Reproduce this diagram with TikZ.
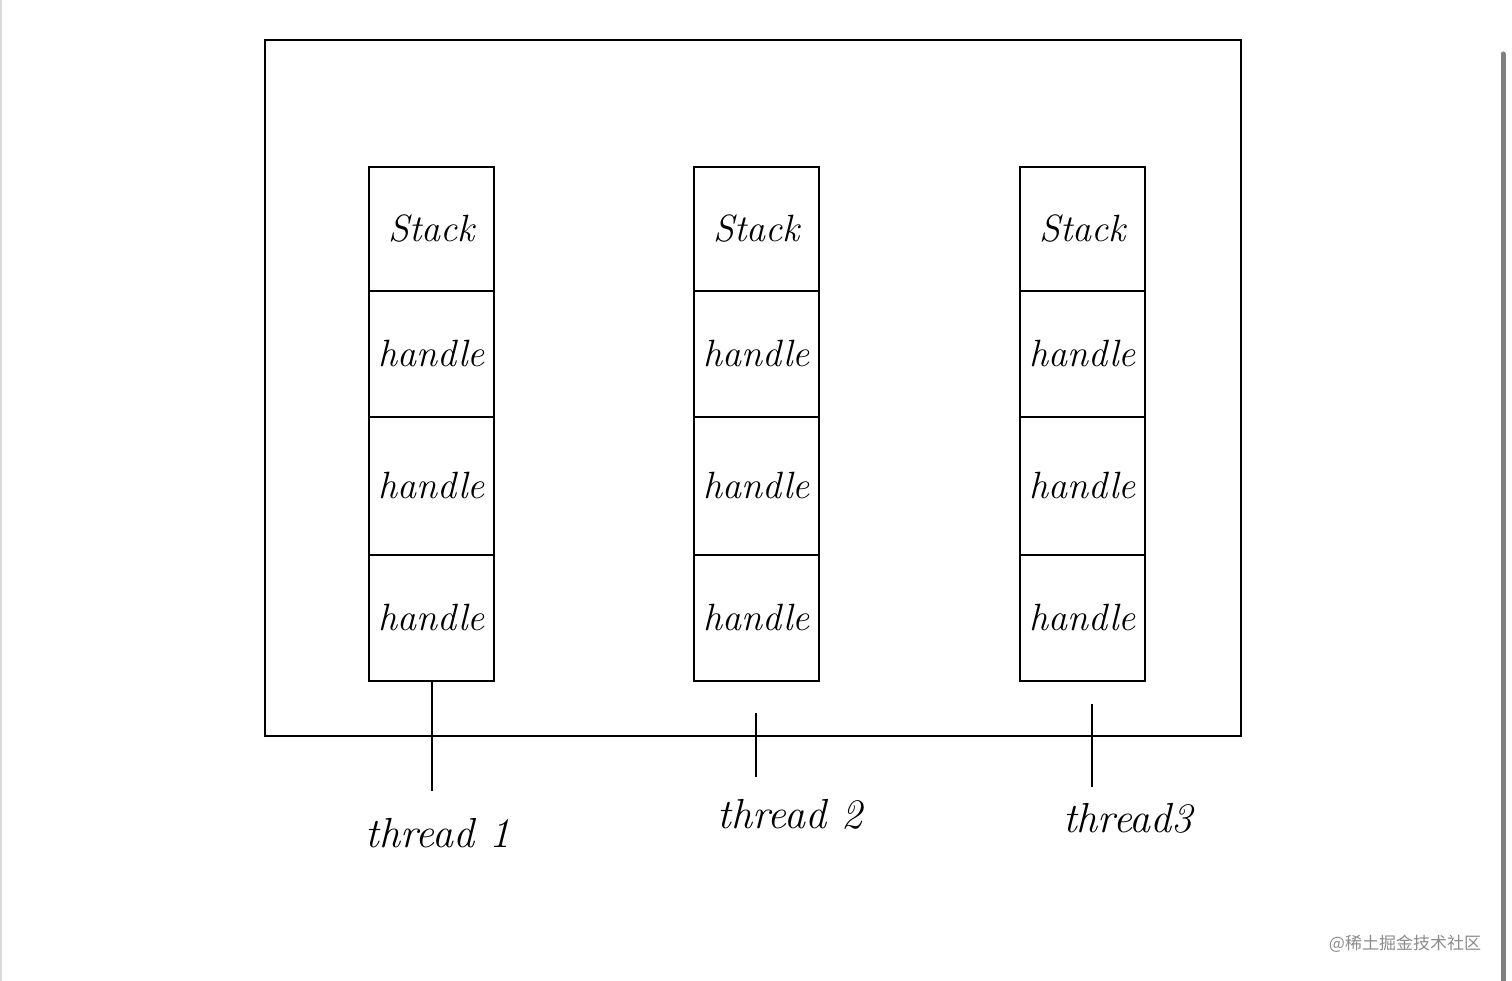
\documentclass[tikz,border=0pt]{standalone}
\usepackage{fontspec}
\newfontfamily\cjkfont{Noto Sans CJK SC}
\begin{document}
\begin{tikzpicture}[x=1pt,y=-1pt,
  frame/.style={draw=black, line width=2pt},
  cell/.style={draw=black, line width=2pt, minimum width=125pt, inner sep=0pt, anchor=north west, font=\fontsize{38}{44}\selectfont\itshape},
  tick/.style={draw=black, line width=2pt},
  lab/.style={font=\fontsize{42}{48}\selectfont\itshape, inner sep=0pt}]
\useasboundingbox (0,0) rectangle (1512,981);
\fill[white] (0,0) rectangle (1512,981);
\draw[black!15, line width=2pt] (1,0) -- (1,981);
\draw[black!50, line width=5pt, line cap=round] (1503,54) -- (1503,981);
\node[frame, minimum width=976pt, minimum height=696pt, anchor=north west, inner sep=0pt] (outer) at (264,39) {};
\foreach \i/\x in {1/368, 2/693, 3/1019} {
  \node[cell, minimum height=124pt] (s\i) at (\x,166) {Stack};
  \node[cell, minimum height=126pt] (h\i a) at (\x,290) {handle};
  \node[cell, minimum height=138pt] (h\i b) at (\x,416) {handle};
  \node[cell, minimum height=126pt] (h\i c) at (\x,554) {handle};
}
\coordinate (e1) at (h1c.south |- 0,791);
\draw[tick] (h1c.south) -- (e1);
\coordinate (t2a) at (756,713);
\coordinate (e2) at (756,777);
\draw[tick] (t2a) -- (e2);
\coordinate (t3a) at (1092,704);
\coordinate (e3) at (1092,787);
\draw[tick] (t3a) -- (e3);
\node[lab] (l1) at (438,833) {thread 1};
\node[lab] (l2) at (790,814) {thread 2};
\node[lab] (l3) at (1128,818) {thread3};
\node[text=black!45, font=\cjkfont\fontsize{17}{20}\selectfont, inner sep=0pt] (wm) at (1405,944) {@稀土掘金技术社区};
\end{tikzpicture}
\end{document}
